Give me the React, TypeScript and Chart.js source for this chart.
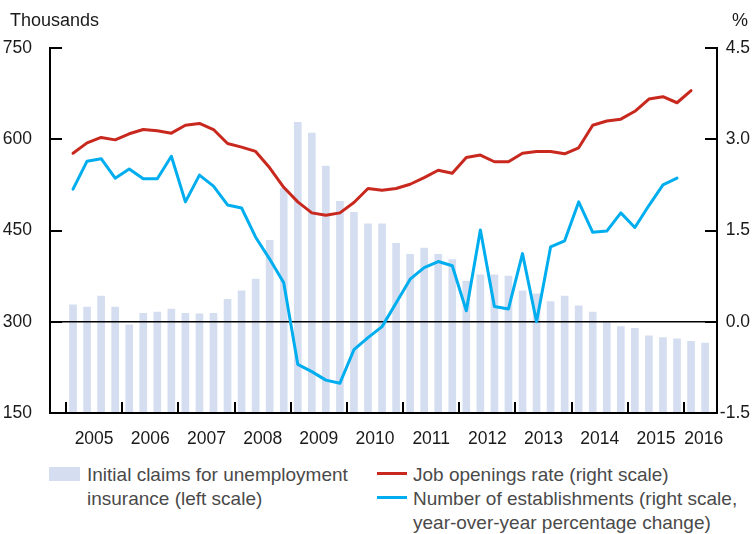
import React, { useEffect, useRef } from 'react';
import { Chart, registerables } from 'chart.js';

Chart.register(...registerables);

// ---- data (quarterly, starting 2005 Q1) ----
const startYear = 2005;
const yearLabels = [2005, 2006, 2007, 2008, 2009, 2010, 2011, 2012, 2013, 2014, 2015, 2016];

// Initial claims for unemployment insurance, thousands (left scale), 2005Q1–2016Q2
const initialClaims = [
  328, 324, 342, 324,
  295, 314, 316, 321,
  314, 313, 314, 337,
  351, 370, 434, 519,
  628, 610, 556, 498,
  480, 461, 461, 429,
  411, 421, 411, 402,
  367, 377, 377, 375,
  351, 346, 333, 342,
  326, 316, 300, 292,
  289, 277, 274, 272,
  268, 265,
];

// Job openings rate, % (right scale), 2005Q1–2016Q1
const jobOpeningsRate = [
  2.77, 2.94, 3.03, 2.99,
  3.09, 3.16, 3.14, 3.10,
  3.23, 3.26, 3.16, 2.93,
  2.87, 2.80, 2.53, 2.21,
  1.97, 1.79, 1.75, 1.79,
  1.96, 2.19, 2.16, 2.19,
  2.26, 2.37, 2.49, 2.44,
  2.70, 2.74, 2.63, 2.63,
  2.77, 2.80, 2.80, 2.76,
  2.86, 3.23, 3.30, 3.33,
  3.46, 3.66, 3.70, 3.60,
  3.80,
];

// Number of establishments, y/y % change (right scale), 2005Q1–2015Q4
const establishments = [
  2.18, 2.64, 2.68, 2.36,
  2.51, 2.35, 2.35, 2.72,
  1.97, 2.41, 2.23, 1.92,
  1.87, 1.39, 1.03, 0.64,
  -0.70, -0.82, -0.96, -1.01,
  -0.46, -0.26, -0.08, 0.31,
  0.70, 0.89, 0.99, 0.92,
  0.18, 1.51, 0.25, 0.21,
  1.12, 0.00, 1.23, 1.33,
  1.97, 1.47, 1.49, 1.79,
  1.55, 1.91, 2.25, 2.36,
];

const leftTicks = [150, 300, 450, 600, 750];
const rightTicks = [-1.5, 0, 1.5, 3.0, 4.5];

// ---- styles ----
const BAR_COLOR = 'rgb(212,222,240)';
const RED = '#c8281e';
const BLUE = '#00aeef';
const FONT = "'Liberation Sans', Arial, Helvetica, sans-serif";
const AXIS_TEXT = '#1a1a1a';
const LEGEND_TEXT = '#4a4a4a';

const quarterX = (i: number) => startYear + (i + 0.5) / 4;
const toPoints = (arr: number[]) => arr.map((v, i) => ({ x: quarterX(i), y: v }));

const inwardTicks = {
  id: 'inwardTicks',
  afterDatasetDraw(chart: any, args: any) {
    if (args.meta.type !== 'bar') return;
    const { ctx, chartArea } = chart;
    const y1 = chart.scales.y1;
    const yz = y1.getPixelForValue(0);
    ctx.save();
    ctx.strokeStyle = '#000';
    ctx.lineWidth = 1.6;
    ctx.beginPath();
    ctx.moveTo(chartArea.left, yz);
    ctx.lineTo(chartArea.right, yz);
    ctx.stroke();
    ctx.restore();
  },
  afterDraw(chart: any) {
    const { ctx, chartArea } = chart;
    const { left, right, bottom } = chartArea;
    const ys = chart.scales.y;
    const y1s = chart.scales.y1;
    const xs = chart.scales.x;
    ctx.save();
    ctx.strokeStyle = '#000';
    ctx.lineWidth = 2;
    ctx.lineCap = 'butt';
    ctx.beginPath();
    // bottom axis line drawn on top of the bars
    ctx.moveTo(left - 1, bottom);
    ctx.lineTo(right + 1, bottom);
    leftTicks.forEach((v) => {
      const p = Math.round(ys.getPixelForValue(v));
      ctx.moveTo(left - 1, p);
      ctx.lineTo(left + 12, p);
    });
    rightTicks.forEach((v) => {
      const p = Math.round(y1s.getPixelForValue(v));
      ctx.moveTo(right - 12, p);
      ctx.lineTo(right + 1, p);
    });
    yearLabels.forEach((yr) => {
      const p = Math.round(xs.getPixelForValue(yr));
      ctx.moveTo(p, bottom + 1);
      ctx.lineTo(p, bottom - 11);
    });
    ctx.stroke();
    ctx.restore();
  },
};

function ChartCanvas() {
  const ref = useRef<HTMLCanvasElement | null>(null);
  useEffect(() => {
    if (!ref.current) return;
    const tickFont = { family: FONT, size: 17.5 };
    const chart = new Chart(ref.current, {
      type: 'bar',
      data: {
        datasets: [
          {
            type: 'bar',
            label: 'Initial claims for unemployment insurance (left scale)',
            data: toPoints(initialClaims),
            backgroundColor: BAR_COLOR,
            borderWidth: 0,
            barThickness: 7,
            xAxisID: 'x',
            yAxisID: 'y',
            order: 3,
          } as any,
          {
            type: 'line',
            label: 'Job openings rate (right scale)',
            data: toPoints(jobOpeningsRate),
            borderColor: RED,
            backgroundColor: RED,
            borderWidth: 3,
            pointRadius: 0,
            tension: 0,
            borderJoinStyle: 'round',
            borderCapStyle: 'round',
            xAxisID: 'x',
            yAxisID: 'y1',
            order: 1,
          } as any,
          {
            type: 'line',
            label: 'Number of establishments (right scale, year-over-year percentage change)',
            data: toPoints(establishments),
            borderColor: BLUE,
            backgroundColor: BLUE,
            borderWidth: 3,
            pointRadius: 0,
            tension: 0,
            borderJoinStyle: 'round',
            borderCapStyle: 'round',
            xAxisID: 'x',
            yAxisID: 'y1',
            order: 2,
          } as any,
        ],
      },
      options: {
        responsive: false,
        animation: false,
        devicePixelRatio: 1,
        layout: { padding: { top: 48, right: 3, left: 0, bottom: 0 } },
        plugins: { legend: { display: false }, tooltip: { enabled: false } },
        scales: {
          x: {
            type: 'linear',
            position: 'bottom',
            min: 2004.715,
            max: 2016.587,
            offset: false,
            grid: { display: false },
            border: { display: false },
            ticks: {
              autoSkip: false,
              maxRotation: 0,
              minRotation: 0,
              padding: 8,
              color: AXIS_TEXT,
              font: tickFont,
              callback: (v: any) => String(Math.floor(Number(v))),
            },
            afterBuildTicks: (scale: any) => {
              scale.ticks = yearLabels.map((yr, i) => ({
                value: i === yearLabels.length - 1 ? yr + 0.35 : yr + 0.5,
              }));
            },
            afterFit: (scale: any) => {
              scale.height = 42;
            },
          },
          y: {
            type: 'linear',
            position: 'left',
            min: 150,
            max: 750,
            grid: { display: false },
            border: { display: true, color: '#000', width: 2 },
            ticks: { padding: 10, color: AXIS_TEXT, font: tickFont },
            afterBuildTicks: (scale: any) => {
              scale.ticks = leftTicks.map((v) => ({ value: v }));
            },
            afterFit: (scale: any) => {
              scale.width = 50;
            },
          },
          y1: {
            type: 'linear',
            position: 'right',
            min: -1.5,
            max: 4.5,
            grid: { display: false },
            border: { display: true, color: '#000', width: 2 },
            ticks: {
              crossAlign: 'far',
              padding: 6,
              color: AXIS_TEXT,
              font: tickFont,
              callback: (v: any) => Number(v).toFixed(1),
            },
            afterBuildTicks: (scale: any) => {
              scale.ticks = rightTicks.map((v) => ({ value: v }));
            },
            afterFit: (scale: any) => {
              scale.width = 33;
            },
          },
        },
      } as any,
      plugins: [inwardTicks],
    });
    return () => chart.destroy();
  }, []);
  return (
    <canvas
      ref={ref}
      width={753}
      height={455}
      style={{ position: 'absolute', left: 0, top: 0, width: 753, height: 455 }}
    />
  );
}

export default function App() {
  const legendText: React.CSSProperties = {
    position: 'absolute',
    fontFamily: FONT,
    fontSize: 19,
    lineHeight: '24px',
    color: LEGEND_TEXT,
    whiteSpace: 'nowrap',
  };
  return (
    <div
      style={{
        position: 'absolute',
        left: 0,
        top: 0,
        width: 753,
        height: 534,
        background: '#fff',
        overflow: 'hidden',
      }}
    >
      <ChartCanvas />
      <div
        style={{
          position: 'absolute',
          left: 10,
          top: 11,
          fontFamily: FONT,
          fontSize: 18,
          lineHeight: '18px',
          color: AXIS_TEXT,
        }}
      >
        Thousands
      </div>
      <div
        style={{
          position: 'absolute',
          right: 5,
          top: 11,
          fontFamily: FONT,
          fontSize: 18,
          lineHeight: '18px',
          color: AXIS_TEXT,
        }}
      >
        %
      </div>
      {/* legend */}
      <div
        style={{ position: 'absolute', left: 49, top: 467, width: 31, height: 14, background: BAR_COLOR }}
      />
      <div style={{ ...legendText, left: 87, top: 463 }}>
        Initial claims for unemployment
        <br />
        insurance (left scale)
      </div>
      <div style={{ position: 'absolute', left: 377, top: 472, width: 30, height: 3, background: RED }} />
      <div style={{ position: 'absolute', left: 377, top: 496, width: 30, height: 3, background: BLUE }} />
      <div style={{ ...legendText, left: 413, top: 463 }}>
        Job openings rate (right scale)
        <br />
        Number of establishments (right scale,
        <br />
        year-over-year percentage change)
      </div>
    </div>
  );
}
